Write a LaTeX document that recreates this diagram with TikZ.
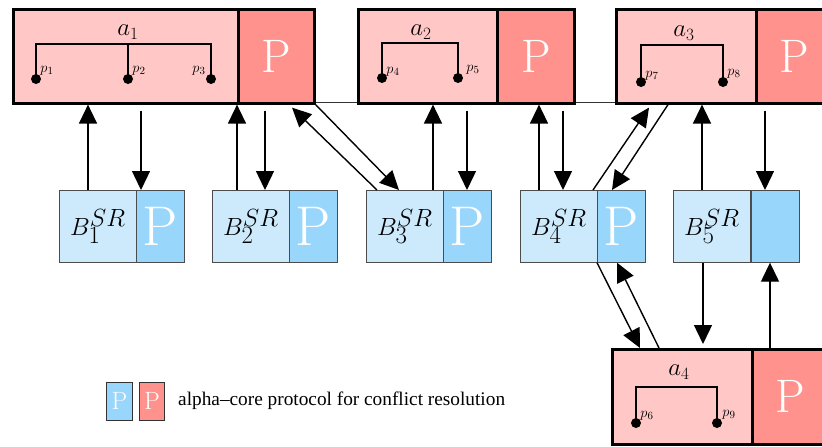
\documentclass[tikz,border=0pt]{standalone}
\usepackage{fontspec}
\newfontfamily\legfont{Liberation Serif}
\usetikzlibrary{arrows.meta}
\definecolor{rlight}{RGB}{255,200,198}
\definecolor{rdark}{RGB}{255,146,140}
\definecolor{blight}{RGB}{204,234,252}
\definecolor{bdark}{RGB}{153,214,252}
\tikzset{
  abox/.style={draw=black,line width=2.6pt,fill=rlight,anchor=north west,inner sep=0pt,minimum height=94pt},
  apbox/.style={abox,fill=rdark,minimum width=76pt,text=white,font=\fontsize{47}{50}\selectfont},
  bbox/.style={draw=black!70,line width=0.7pt,fill=blight,anchor=north west,inner sep=0pt,minimum width=77pt,minimum height=72pt,font=\fontsize{36}{38}\selectfont},
  bpbox/.style={bbox,fill=bdark,minimum width=48pt,text=white,font=\fontsize{56}{58}\selectfont},
  arr/.style={line width=1.4pt,-{Triangle[length=19pt,width=18pt]}},
  brk/.style={line width=1.5pt},
  dot/.style={circle,fill=black,inner sep=0pt,minimum size=10pt},
  plab/.style={font=\fontsize{15}{16}\selectfont,inner sep=0pt},
  alab/.style={font=\fontsize{23}{25}\selectfont,inner sep=0pt},
  legbox/.style={draw=black!80,line width=0.7pt,anchor=north west,inner sep=0pt,minimum height=38pt,text=white,font=\fontsize{25}{27}\selectfont}
}
\begin{document}
\begin{tikzpicture}[x=1pt,y=-1pt]
\useasboundingbox (0,0) rectangle (822,447);
\clip (0,0) rectangle (822,447);
% thin background line
\coordinate (ls) at (313,102);
\coordinate (le) at (615,102);
\draw[line width=0.6pt,black!80] (ls) -- (le);
% top boxes
\node[abox,minimum width=225pt] (a1) at (12,8) {};
\node[apbox] (a1p) at (237,8) {P};
\node[abox,minimum width=139pt] (a2) at (357,8) {};
\node[apbox,minimum width=77pt] (a2p) at (496,8) {P};
\node[abox,minimum width=140pt] (a3) at (615,8) {};
\node[apbox] (a3p) at (755,8) {P};
\node[abox,minimum width=140pt,minimum height=95pt] (a4) at (611,348) {};
\node[apbox,minimum height=95pt] (a4p) at (751,348) {P};
% B boxes
\node[bbox] (b1) at (59,190) {$B_1^{SR}$};
\node[bpbox] (bp1) at (136,190) {P};
\node[bbox] (b2) at (212,190) {$B_2^{SR}$};
\node[bpbox] (bp2) at (289,190) {P};
\node[bbox] (b3) at (366,190) {$B_3^{SR}$};
\node[bpbox] (bp3) at (443,190) {P};
\node[bbox] (b4) at (520,190) {$B_4^{SR}$};
\node[bpbox] (bp4) at (597,190) {P};
\node[bbox] (b5) at (673,190) {$B_5^{SR}$};
\node[bpbox] (bp5) at (751,190) {};
% a1 internals
\node[alab] (la1) at (128,32) {$a_1$};
\node[dot] (p1) at (36,79) {};
\node[dot] (p2) at (128,79) {};
\node[dot] (p3) at (211,79) {};
\coordinate (h1l) at (36,44);
\coordinate (h1m) at (128,44);
\coordinate (h1r) at (211,44);
\draw[brk] (p1.center) -- (h1l) -- (h1r) -- (p3.center);
\draw[brk] (h1m) -- (p2.center);
\node[plab] (lp1) at (47,71) {$p_1$};
\node[plab] (lp2) at (139,71) {$p_2$};
\node[plab] (lp3) at (199,71) {$p_3$};
% a2 internals
\node[alab] (la2) at (421,32) {$a_2$};
\node[dot] (p4) at (382,78) {};
\node[dot] (p5) at (458,78) {};
\coordinate (h2l) at (382,43);
\coordinate (h2r) at (458,43);
\draw[brk] (p4.center) -- (h2l) -- (h2r) -- (p5.center);
\node[plab] (lp4) at (393,72) {$p_4$};
\node[plab] (lp5) at (473,70) {$p_5$};
% a3 internals
\node[alab] (la3) at (684,33) {$a_3$};
\node[dot] (p7) at (641,82) {};
\node[dot] (p8) at (723,82) {};
\coordinate (h3l) at (641,45);
\coordinate (h3r) at (723,45);
\draw[brk] (p7.center) -- (h3l) -- (h3r) -- (p8.center);
\node[plab] (lp7) at (652,76) {$p_7$};
\node[plab] (lp8) at (734,74) {$p_8$};
% a4 internals
\node[alab] (la4) at (679,372) {$a_4$};
\node[dot] (p6) at (636,423) {};
\node[dot] (p9) at (717,423) {};
\coordinate (h4l) at (636,387);
\coordinate (h4r) at (717,387);
\draw[brk] (p6.center) -- (h4l) -- (h4r) -- (p9.center);
\node[plab] (lp6) at (647,416) {$p_6$};
\node[plab] (lp9) at (729,415) {$p_9$};
% arrows
\draw[arr] ([xshift=29pt]b1.north west) -- ([xshift=76pt]a1.south west);
\draw[arr] ([xshift=129pt,yshift=-6pt]a1.south west) -- ([xshift=82pt]b1.north west);
\draw[arr] ([xshift=25pt]b2.north west) -- (a1p.south west);
\draw[arr] ([xshift=28pt,yshift=-6pt]a1p.south west) -- ([xshift=53pt]b2.north west);
\draw[arr] ([xshift=11pt]b3.north west) -- ([xshift=55pt,yshift=-3pt]a1p.south west);
\draw[arr] (a1p.south east) -- ([xshift=33pt]b3.north west);
\draw[arr] ([xshift=67pt]b3.north west) -- ([xshift=76pt]a2.south west);
\draw[arr] ([xshift=110pt,yshift=-6pt]a2.south west) -- ([xshift=24pt]bp3.north west);
\draw[arr] ([xshift=19pt]b4.north west) -- ([xshift=43pt]a2p.south west);
\draw[arr] ([xshift=67pt,yshift=-6pt]a2p.south west) -- ([xshift=43pt]b4.north west);
\draw[arr] ([xshift=73pt]b4.north west) -- ([xshift=34pt,yshift=-3pt]a3.south west);
\draw[arr] ([xshift=53pt]a3.south west) -- ([xshift=15pt]bp4.north west);
\draw[arr] ([xshift=29pt]b5.north west) -- ([xshift=87pt]a3.south west);
\draw[arr] ([xshift=10pt,yshift=-6pt]a3p.south west) -- ([xshift=14pt]bp5.north west);
\draw[arr] (bp4.south west) -- ([xshift=29pt]a4.north west);
\draw[arr] ([xshift=48pt]a4.north west) -- ([xshift=20pt]bp4.south west);
\draw[arr] ([xshift=30pt]b5.south west) -- ([xshift=92pt,yshift=4pt]a4.north west);
\draw[arr] ([xshift=19pt]a4p.north west) -- ([xshift=19pt]bp5.south west);
% legend
\node[legbox,fill=bdark,minimum width=26pt] (lg1) at (106,382) {P};
\node[legbox,fill=rdark,minimum width=25pt] (lg2) at (139,382) {P};
\node[anchor=west,inner sep=0pt,font=\legfont\fontsize{19.3}{21}\selectfont] (lgt) at (178,401) {alpha–core protocol for conflict resolution};
\end{tikzpicture}
\end{document}
